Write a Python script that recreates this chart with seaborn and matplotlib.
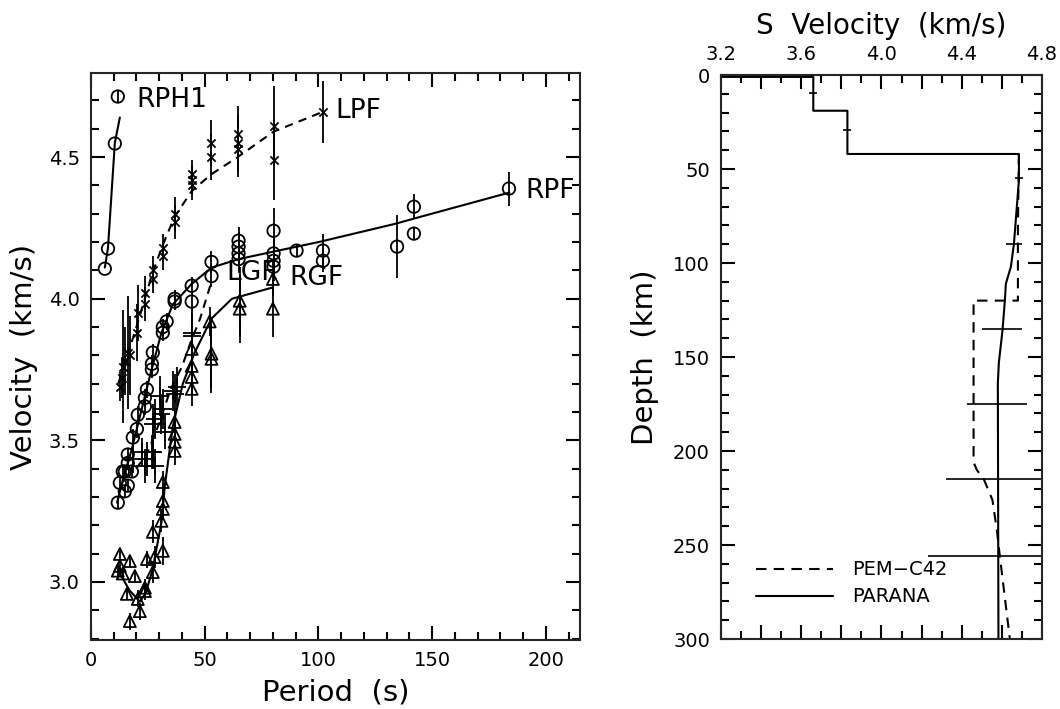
import matplotlib
matplotlib.use("Agg")
import matplotlib.pyplot as plt
from matplotlib.ticker import MultipleLocator, FuncFormatter
import seaborn as sns
import pandas as pd

# ---- left panel: dispersion data (period s, velocity km/s, error) ----
rph1_period = [6.1, 7.5, 10.5, 11.8]
rph1_vel = [4.106, 4.177, 4.548, 4.714]
rph1_line_period = [6.1, 7.5, 10.5, 12.7]
rph1_line_vel = [4.11, 4.18, 4.55, 4.64]

lpf_period = [12.7, 13.5, 14.0, 15.0, 16.2, 17.0, 20.2, 20.6, 23.7, 23.7, 27.3, 27.3, 31.6, 31.6,
              36.8, 36.8, 44.3, 44.3, 44.3, 53.0, 53.0, 64.5, 64.5, 64.5, 80.3, 80.3, 102.0]
lpf_vel = [3.69, 3.72, 3.76, 3.78, 3.81, 3.80, 3.88, 3.95, 3.98, 4.02, 4.07, 4.10, 4.15, 4.18,
           4.27, 4.30, 4.40, 4.42, 4.44, 4.50, 4.55, 4.53, 4.55, 4.58, 4.49, 4.61, 4.66]
lpf_err = [0.05, 0.07, 0.20, 0.12, 0.20, 0.14, 0.10, 0.10, 0.06, 0.06, 0.05, 0.05, 0.05, 0.05,
           0.06, 0.06, 0.05, 0.05, 0.05, 0.08, 0.08, 0.10, 0.10, 0.10, 0.14, 0.14, 0.11]
lpf_line_period = [12, 16, 20, 23.7, 27, 31.6, 36.8, 44.3, 53, 64.5, 80.3, 102]
lpf_line_vel = [3.70, 3.80, 3.90, 4.00, 4.09, 4.19, 4.29, 4.38, 4.44, 4.50, 4.59, 4.66]

rpf_period = [11.8, 12.7, 14.9, 16.2, 14.0, 18.0, 16.2, 14.9, 16.2, 18.4, 20.2, 20.6, 23.7, 23.7,
              24.6, 26.8, 26.8, 27.2, 31.6, 31.6, 33.3, 36.8, 36.8, 44.3, 44.3, 53.0, 53.0, 64.9,
              64.9, 64.9, 64.9, 80.3, 80.3, 80.3, 80.3, 90.4, 102.0, 102.0, 134.6, 142.0, 142.0, 183.8]
rpf_vel = [3.28, 3.35, 3.32, 3.34, 3.39, 3.39, 3.42, 3.39, 3.45, 3.51, 3.54, 3.59, 3.62, 3.65,
           3.68, 3.75, 3.77, 3.81, 3.88, 3.90, 3.92, 3.99, 4.00, 4.046, 3.99, 4.13, 4.08, 4.205,
           4.184, 4.16, 4.14, 4.24, 4.16, 4.134, 4.113, 4.17, 4.17, 4.134, 4.184, 4.325, 4.23, 4.389]
rpf_err = [0.02, 0.02, 0.02, 0.02, 0.02, 0.02, 0.02, 0.02, 0.02, 0.03, 0.03, 0.03, 0.03, 0.03,
           0.03, 0.03, 0.03, 0.03, 0.03, 0.03, 0.03, 0.03, 0.03, 0.03, 0.03, 0.04, 0.04, 0.05,
           0.05, 0.05, 0.05, 0.08, 0.05, 0.05, 0.05, 0.02, 0.06, 0.04, 0.11, 0.045, 0.02, 0.06]
rpf_line_period = [11.5, 14, 18, 22, 26, 31, 36, 44, 53, 65, 80, 100, 134, 142, 184]
rpf_line_vel = [3.28, 3.36, 3.47, 3.60, 3.73, 3.88, 3.98, 4.05, 4.11, 4.14, 4.166, 4.20, 4.265, 4.283, 4.375]

lgf_period = [18.4, 22.4, 23.7, 24.6, 26.8, 27.2, 27.2, 28.0, 28.0, 30.3, 31.0, 31.6, 32.5,
              36.0, 36.8, 37.7, 44.3, 44.3]
lgf_vel = [3.435, 3.46, 3.41, 3.435, 3.46, 3.558, 3.46, 3.575, 3.41, 3.657, 3.594, 3.61, 3.53,
           3.675, 3.665, 3.689, 3.87, 3.88]
lgf_err = [0.05, 0.05, 0.06, 0.06, 0.06, 0.07, 0.06, 0.07, 0.06, 0.07, 0.07, 0.07, 0.06,
           0.07, 0.07, 0.07, 0.08, 0.08]
lgf_line_period = [20, 25, 30, 35, 40, 44, 48, 53]
lgf_line_vel = [3.40, 3.46, 3.56, 3.68, 3.76, 3.85, 3.93, 4.06]

rgf_period = [11.8, 12.7, 12.7, 14.0, 15.8, 17.1, 17.1, 19.3, 20.6, 21.5, 23.7, 23.7, 24.6, 27.2,
              27.2, 28.0, 31.0, 31.6, 31.6, 31.6, 31.6, 36.8, 36.8, 36.8, 36.8, 44.3, 44.3, 44.3,
              44.3, 52.2, 53.0, 53.0, 65.4, 65.4, 80.0, 80.0]
rgf_vel = [3.04, 3.099, 3.057, 3.03, 2.958, 3.074, 2.862, 3.021, 2.94, 2.897, 2.968, 2.98, 3.081,
           3.177, 3.035, 3.088, 3.216, 3.11, 3.258, 3.286, 3.353, 3.565, 3.523, 3.495, 3.463,
           3.823, 3.763, 3.724, 3.682, 3.92, 3.806, 3.788, 3.993, 3.965, 3.965, 4.07]
rgf_err = [0.02, 0.02, 0.02, 0.02, 0.02, 0.02, 0.03, 0.02, 0.03, 0.03, 0.03, 0.03, 0.03, 0.04,
           0.04, 0.04, 0.04, 0.05, 0.04, 0.04, 0.04, 0.05, 0.05, 0.05, 0.05, 0.06, 0.06, 0.06,
           0.06, 0.05, 0.12, 0.12, 0.12, 0.12, 0.10, 0.06]
rgf_line_period = [12, 17, 21.5, 24, 27, 31, 32.5, 36, 40.4, 45.6, 53, 62, 80]
rgf_line_vel = [3.04, 2.97, 2.93, 2.96, 3.04, 3.21, 3.34, 3.55, 3.70, 3.81, 3.93, 4.00, 4.04]

labels = ["RPH1", "LPF", "RPF", "LGF", "RGF"]
label_period = [20.0, 107.5, 191.0, 59.6, 87.3]
label_vel = [4.70, 4.663, 4.38, 4.09, 4.074]

# ---- right panel: S velocity models ----
parana_vel = [3.20, 3.20, 3.66, 3.66, 3.83, 3.83, 4.685, 4.685, 4.66, 4.645, 4.62, 4.615, 4.603,
              4.585, 4.58, 4.583]
parana_depth = [0, 1, 1, 19, 19, 42, 42, 56, 90, 102, 111, 120, 136, 153, 164, 300]
pem_vel = [4.685, 4.68, 4.68, 4.459, 4.459, 4.475, 4.51, 4.553, 4.575, 4.59, 4.64]
pem_depth = [42, 82, 120, 120, 206, 210, 215, 226, 242, 256, 300]
err_depth = [9.5, 29, 55, 90, 135, 175, 215, 256]
err_vel = [3.66, 3.83, 4.685, 4.66, 4.60, 4.575, 4.583, 4.583]
err_width = [0.02, 0.02, 0.02, 0.04, 0.10, 0.15, 0.26, 0.35]

sns.set_theme(style="ticks")
plt.rcParams["font.family"] = ["DejaVu Sans"]
plt.rcParams["axes.linewidth"] = 1.5

fig = plt.figure(figsize=(10.6, 7.09), dpi=100)
ax1 = fig.add_axes([0.0858, 0.0973, 0.4613, 0.7997])
ax2 = fig.add_axes([0.6802, 0.0987, 0.3028, 0.7955])

K = "black"


def line(ax, xs, ys, style="-"):
    d = pd.DataFrame({"x": xs, "y": ys})
    sns.lineplot(data=d, x="x", y="y", ax=ax, sort=False, estimator=None,
                 color=K, lw=1.5, linestyle=style)


def points(ax, xs, ys, errs, marker, size, filled=False):
    if errs is not None:
        ax.errorbar(xs, ys, yerr=errs, fmt="none", ecolor=K, elinewidth=1.3, capsize=0)
    d = pd.DataFrame({"x": xs, "y": ys})
    if filled:
        sns.scatterplot(data=d, x="x", y="y", ax=ax, marker=marker, s=size,
                        color=K, linewidth=1.3, zorder=3)
    else:
        sns.scatterplot(data=d, x="x", y="y", ax=ax, marker=marker, s=size,
                        facecolor="none", edgecolor=K, linewidth=1.3, zorder=3)


line(ax1, rph1_line_period, rph1_line_vel)
points(ax1, rph1_period, rph1_vel, [0, 0, 0, 0.02], "o", 80)
line(ax1, lpf_line_period, lpf_line_vel, (0, (4, 3)))
points(ax1, lpf_period, lpf_vel, lpf_err, "x", 35, filled=True)
line(ax1, rpf_line_period, rpf_line_vel)
points(ax1, rpf_period, rpf_vel, rpf_err, "o", 80)
line(ax1, lgf_line_period, lgf_line_vel, (0, (4, 3)))
points(ax1, lgf_period, lgf_vel, lgf_err, "+", 150, filled=True)
line(ax1, rgf_line_period, rgf_line_vel)
points(ax1, rgf_period, rgf_vel, rgf_err, "^", 75)

for t, px, py in zip(labels, label_period, label_vel):
    ax1.text(px, py, t, fontsize=19, ha="left", va="center", color=K)

ax1.set_xlim(0, 215)
ax1.set_ylim(2.795, 4.797)
ax1.xaxis.set_major_locator(MultipleLocator(50))
ax1.xaxis.set_minor_locator(MultipleLocator(10))
ax1.yaxis.set_major_locator(MultipleLocator(0.5))
ax1.yaxis.set_minor_locator(MultipleLocator(0.1))
ax1.yaxis.set_major_formatter(FuncFormatter(lambda v, p: f"{v:.1f}"))
ax1.tick_params(which="both", direction="in", top=True, right=True, color=K,
                width=1.5, labelsize=14, labelcolor=K, pad=8)
ax1.tick_params(which="major", length=10)
ax1.tick_params(which="minor", length=6)
ax1.set_xlabel("Period  (s)", fontsize=21, color=K, labelpad=6)
ax1.set_ylabel("Velocity  (km/s)", fontsize=21, color=K, labelpad=8)

# right panel
line(ax2, pem_vel, pem_depth, (0, (5, 3.5)))
line(ax2, parana_vel, parana_depth)
ax2.errorbar(err_vel, err_depth, xerr=err_width, fmt="none", ecolor=K, elinewidth=1.2, capsize=0)
ax2.set_xlim(3.2, 4.8)
ax2.set_ylim(300, 0)
ax2.xaxis.set_major_locator(MultipleLocator(0.2))
ax2.xaxis.set_minor_locator(MultipleLocator(0.1))
ax2.xaxis.set_major_formatter(FuncFormatter(
    lambda v, p: f"{v:.1f}" if abs(round(v / 0.4) * 0.4 - v) < 1e-6 else ""))
ax2.yaxis.set_major_locator(MultipleLocator(50))
ax2.yaxis.set_minor_locator(MultipleLocator(10))
ax2.tick_params(which="both", direction="in", top=True, right=True, bottom=True,
                labeltop=True, labelbottom=False, color=K, width=1.5,
                labelsize=14, labelcolor=K, pad=8)
ax2.tick_params(which="major", length=10)
ax2.tick_params(which="minor", length=6)
ax2.xaxis.set_label_position("top")
ax2.set_xlabel("S  Velocity  (km/s)", fontsize=20, color=K, labelpad=8)
ax2.set_ylabel("Depth  (km)", fontsize=21, color=K, labelpad=10)

# legend drawn as lines in axes coordinates
ax2.plot([0.11, 0.35], [0.124, 0.124], transform=ax2.transAxes, color=K, lw=1.5,
         linestyle=(0, (5, 3.5)))
ax2.plot([0.11, 0.35], [0.076, 0.076], transform=ax2.transAxes, color=K, lw=1.5)
ax2.text(0.41, 0.124, "PEM\u2212C42", transform=ax2.transAxes, fontsize=14, va="center", color=K)
ax2.text(0.41, 0.076, "PARANA", transform=ax2.transAxes, fontsize=14, va="center", color=K)

fig.savefig("out.png", dpi=100)
